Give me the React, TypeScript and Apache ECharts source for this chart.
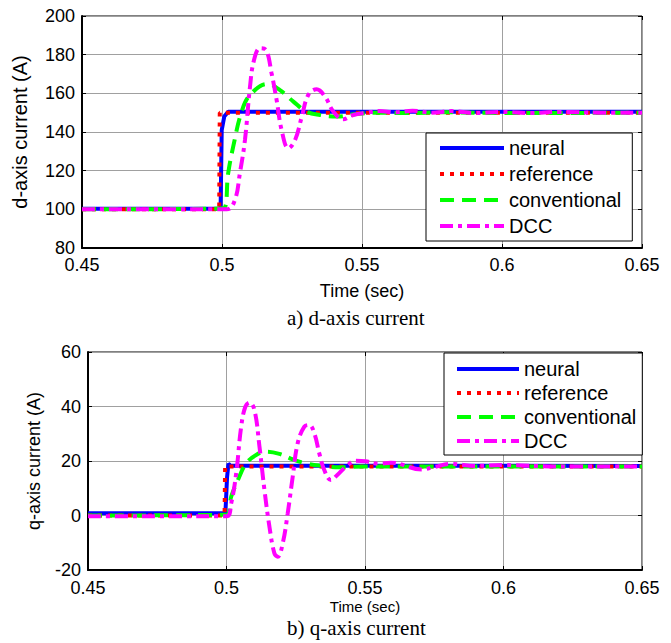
import React, { useEffect, useRef } from "react";
import * as echarts from "echarts";

// x ticks (time, sec)
const xTicks = [0.45, 0.5, 0.55, 0.6, 0.65];
const seriesNames = ["neural", "reference", "conventional", "DCC"];

// d-axis current [t, A]
const neuralD = [[0.45, 100.3], [0.4995, 100.3], [0.4999, 141], [0.5008, 148], [0.5022, 150.5], [0.65, 150.5]];
const referenceD = [[0.45, 100], [0.499, 100], [0.4992, 150], [0.65, 150]];
const conventionalD = [[0.45, 100], [0.5005, 100.5], [0.5022, 118.6], [0.504, 132.4], [0.507, 150.5], [0.51, 159.1], [0.5162, 164.8], [0.5207, 161.7], [0.5255, 155.7], [0.5302, 150.5], [0.535, 148.8], [0.541, 148], [0.548, 149.3], [0.555, 150], [0.565, 149.8], [0.58, 150.2], [0.6, 149.8], [0.65, 150]];
const dccD = [[0.45, 100], [0.5017, 100], [0.5046, 104.8], [0.5064, 118.8], [0.5082, 135.9], [0.51, 163.4], [0.5114, 177], [0.5136, 183.3], [0.5157, 182.4], [0.5177, 170.4], [0.5195, 156.6], [0.5213, 141], [0.5237, 131.6], [0.5261, 135.9], [0.5285, 147.9], [0.5308, 159.1], [0.5338, 162.1], [0.5368, 158.3], [0.5398, 150.5], [0.5433, 146.6], [0.5469, 148.8], [0.5517, 150], [0.556, 150.8], [0.562, 150.2], [0.568, 151], [0.575, 150], [0.582, 150.8], [0.59, 149.8], [0.6, 150.4], [0.61, 149.8], [0.62, 150.4], [0.635, 150], [0.65, 150]];

// q-axis current [t, A]
const neuralQ = [[0.45, 0.8], [0.4996, 0.8], [0.5002, 14], [0.5007, 19], [0.5014, 18.3], [0.65, 18.2]];
const referenceQ = [[0.45, 0], [0.4993, 0], [0.4995, 18], [0.65, 18]];
const conventionalQ = [[0.45, 0], [0.5, 0.3], [0.5017, 6.9], [0.5041, 13], [0.5071, 19.1], [0.5107, 22.2], [0.5143, 23.4], [0.5191, 22.6], [0.5239, 20.6], [0.5287, 19.1], [0.5347, 18.2], [0.5406, 17.7], [0.55, 18], [0.6, 18], [0.65, 18]];
const dccQ = [[0.45, -0.3], [0.5, -0.3], [0.5017, 4.5], [0.5035, 15.5], [0.5053, 32.6], [0.5068, 39.9], [0.5083, 41.4], [0.5101, 38.7], [0.5119, 25.3], [0.5137, 9.4], [0.5155, -4.1], [0.5173, -13.9], [0.5185, -15.1], [0.5203, -10.2], [0.5221, 0.8], [0.5239, 14.2], [0.5257, 26.5], [0.5281, 32.6], [0.5299, 33.2], [0.5317, 30.2], [0.5335, 22.8], [0.5353, 16.7], [0.5377, 13], [0.54, 14.9], [0.5431, 17.9], [0.5467, 20.1], [0.5502, 19.9], [0.555, 19], [0.5593, 19.4], [0.5705, 16.9], [0.575, 17.8], [0.581, 18.9], [0.59, 18.2], [0.6, 18.5], [0.62, 18], [0.65, 18]];

const styles = [
  { color: "#0000ff", type: "solid" as any, smooth: false },
  { color: "#ff0000", type: [4, 6] as any, smooth: false },
  { color: "#00ff00", type: [14, 8] as any, smooth: 0.4 },
  { color: "#ff00ff", type: [13, 5, 4, 5] as any, smooth: 0.4 },
];

const SANS = "'Liberation Sans', Arial, sans-serif";
const SERIF = "'Liberation Serif', 'Times New Roman', serif";

export default function App() {
  const ref = useRef<HTMLDivElement>(null);
  useEffect(() => {
    const chart = echarts.init(ref.current!, undefined, { renderer: "svg" });
    const fmt = (v: number) => String(+v.toFixed(2));
    const xBase = (gi: number, nameGap: number, nameSize: number, labelMargin: number) => ({
      type: "value",
      gridIndex: gi,
      min: xTicks[0],
      max: xTicks[xTicks.length - 1],
      interval: 0.05,
      name: "Time (sec)",
      nameLocation: "middle",
      nameGap,
      nameTextStyle: { fontSize: nameSize, color: "#000", fontFamily: SANS },
      axisLine: { show: true, onZero: false, lineStyle: { color: "#000", width: 2 } },
      axisTick: { show: true, inside: true, length: 4, lineStyle: { color: "#000" } },
      axisLabel: { fontSize: 18, color: "#000", fontFamily: SANS, margin: labelMargin, formatter: fmt },
      splitLine: { show: true, lineStyle: { color: "#a0a0a0", width: 1 } },
    });
    const xTop = (gi: number) => ({
      type: "value",
      gridIndex: gi,
      position: "top",
      min: xTicks[0],
      max: xTicks[xTicks.length - 1],
      interval: 0.05,
      axisLine: { show: false, onZero: false },
      axisTick: { show: true, inside: true, length: 4, lineStyle: { color: "#000" } },
      axisLabel: { show: false },
      splitLine: { show: false },
    });
    const yBase = (gi: number, min: number, max: number, name: string, nameSize: number, nameGap: number) => ({
      type: "value",
      gridIndex: gi,
      min,
      max,
      interval: 20,
      name,
      nameLocation: "middle",
      nameGap,
      nameTextStyle: { fontSize: nameSize, color: "#000", fontFamily: SANS },
      axisLine: { show: true, onZero: false, lineStyle: { color: "#000", width: 2 } },
      axisTick: { show: true, inside: true, length: 4, lineStyle: { color: "#000" } },
      axisLabel: { fontSize: 18, color: "#000", fontFamily: SANS, margin: 7 },
      splitLine: { show: true, lineStyle: { color: "#a0a0a0", width: 1 } },
    });
    const yRight = (gi: number, min: number, max: number) => ({
      type: "value",
      gridIndex: gi,
      position: "right",
      min,
      max,
      interval: 20,
      axisLine: { show: false, onZero: false },
      axisTick: { show: true, inside: true, length: 4, lineStyle: { color: "#000" } },
      axisLabel: { show: false },
      splitLine: { show: false },
    });
    const dataSets = [
      [neuralD, referenceD, conventionalD, dccD],
      [neuralQ, referenceQ, conventionalQ, dccQ],
    ];
    const series: any[] = [];
    dataSets.forEach((set, gi) => {
      set.forEach((d, i) => {
        series.push({
          type: "line",
          name: seriesNames[i],
          xAxisIndex: gi * 2,
          yAxisIndex: gi * 2,
          data: d,
          symbol: "none",
          smooth: styles[i].smooth,
          lineStyle: { color: styles[i].color, width: 4, type: styles[i].type, cap: "butt" },
          itemStyle: { color: styles[i].color },
          z: 2 + i,
        });
      });
    });
    const legendBase = {
      orient: "vertical",
      selectedMode: false,
      data: seriesNames,
      backgroundColor: "#fff",
      borderColor: "#000",
      borderWidth: 1,
      borderRadius: 0,
      itemHeight: 14,
      itemStyle: { opacity: 0, borderWidth: 0 },
      lineStyle: { width: 4, cap: "butt" },
      textStyle: { fontSize: 20, color: "#000", fontFamily: SANS },
      z: 10,
    };
    chart.setOption({
      animation: false,
      textStyle: { fontFamily: SANS },
      grid: [
        { left: 82, top: 16, width: 560, height: 232, show: true, borderColor: "#000", borderWidth: 1, backgroundColor: "#fff" },
        { left: 88, top: 352, width: 554, height: 218, show: true, borderColor: "#000", borderWidth: 1, backgroundColor: "#fff" },
      ],
      xAxis: [xBase(0, 34, 18, 8), xTop(0), xBase(1, 29, 15, 9), xTop(1)],
      yAxis: [
        yBase(0, 80, 200, "d-axis current (A)", 20, 52),
        yRight(0, 80, 200),
        yBase(1, -20, 60, "q-axis current (A)", 18, 45),
        yRight(1, -20, 60),
      ],
      legend: [
        { ...legendBase, left: 426, top: 133, itemWidth: 64, itemGap: 6, itemTextGap: 7, padding: [5, 11, 5, 12] },
        { ...legendBase, left: 444, top: 353, itemWidth: 62, itemGap: 4, itemTextGap: 8, padding: [6, 6, 4, 11] },
      ],
      graphic: [
        { type: "text", left: 287, top: 307, style: { text: "a) d-axis current", fontSize: 21, fontFamily: SERIF, fill: "#000" } },
        { type: "text", left: 287, top: 617, style: { text: "b) q-axis current", fontSize: 21, fontFamily: SERIF, fill: "#000" } },
      ],
      series,
    });
    return () => chart.dispose();
  }, []);
  return <div ref={ref} style={{ width: 671, height: 643, position: "absolute", left: 0, top: 0 }} />;
}
